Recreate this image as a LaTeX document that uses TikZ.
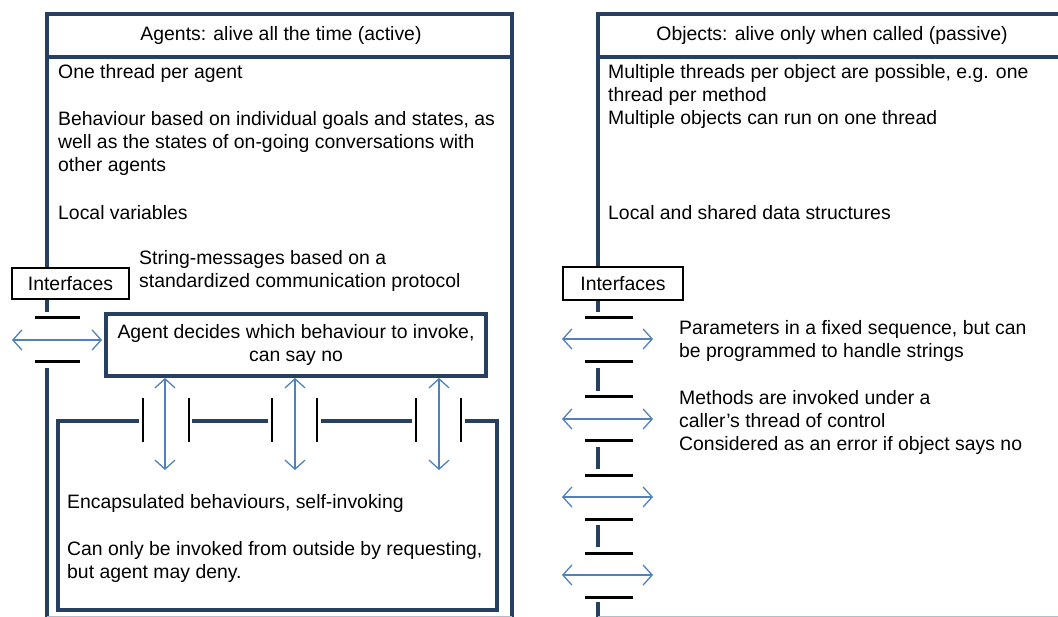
\documentclass[tikz,border=0pt]{standalone}
\usepackage{fontspec}
\setmainfont{Liberation Sans}
\usetikzlibrary{arrows.meta}
\definecolor{navy}{RGB}{38,64,97}
\definecolor{portblue}{RGB}{79,129,189}
\newcommand{\bodyfont}{\fontsize{19.4}{23}\selectfont}
\begin{document}
\begin{tikzpicture}[x=1pt,y=-1pt,
  frame/.style={draw=navy,line width=4pt},
  bar/.style={draw=black,line width=3pt},
  vbar/.style={draw=black,line width=2.5pt},
  port/.style={draw=portblue,line width=1.3pt,
    {Straight Barb[length=9pt,width=20pt]}-{Straight Barb[length=9pt,width=20pt]}},
  txt/.style={font=\bodyfont,inner sep=0pt,align=left,anchor=west},
  head/.style={font=\bodyfont,inner sep=0pt},
  tag/.style={draw=black,line width=1.5pt,fill=white,font=\bodyfont,
    inner sep=0pt,minimum width=117pt,minimum height=31pt}]
\useasboundingbox (0,0) rectangle (1058,617);

% ---------------- Agents ----------------
\draw[frame] (47,312) -- (47,14) -- (512,14) -- (512,622);
\draw[frame] (47,368) -- (47,622);
\draw[frame] (47,57) -- (512,57);
\node[head] (agentsHead) at (281,35) {Agents: alive all the time (active)};

\node[txt] (a1) at (58,73) {One thread per agent};
\node[txt] (a2) at (58,143) {Behaviour based on individual goals and states, as\\well as the states of on-going conversations with\\other agents};
\node[txt] (a3) at (58,213) {Local variables};
\node[txt] (a4) at (139,271) {String-messages based on a\\standardized communication protocol};

\node[tag] (ifaceA) at (70.5,283.5) {Interfaces};

% agent interface port
\draw[bar] (35,318) -- (80,318);
\draw[bar] (35,362) -- (80,362);
\coordinate (pA1) at (12,340);
\coordinate (pA2) at (102,340);
\draw[port] (pA1) -- (pA2);

% dispatcher box
\node[draw=navy,line width=4pt,minimum width=380pt,minimum height=62pt,
      font=\bodyfont,align=center,inner sep=0pt]
  (decide) at (296,345) {Agent decides which behaviour to invoke,\\can say no};

% encapsulated behaviours
\draw[frame] (139,421) -- (58,421) -- (58,610) -- (497,610) -- (497,421) -- (465,421);
\draw[frame] (192,421) -- (268,421);
\draw[frame] (321,421) -- (412,421);
\foreach \x in {143,189,272,317,416,461}
  \draw[vbar] (\x,398) -- (\x,442);

\coordinate (b1) at (165,470);
\coordinate (b2) at (295,470);
\coordinate (b3) at (439,470);
\draw[port] (decide.south -| b1) -- (b1);
\draw[port] (decide.south -| b2) -- (b2);
\draw[port] (decide.south -| b3) -- (b3);

\node[txt] (e1) at (67,503) {Encapsulated behaviours, self-invoking};
\node[txt] (e2) at (67,561.5) {Can only be invoked from outside by requesting,\\but agent may deny.};

% ---------------- Objects ----------------
\draw[frame] (598,312) -- (598,14) -- (1070,14);
\draw[frame] (598,57) -- (1070,57);
\foreach \a/\b in {368/391,447/469,525/547,602/622}
  \draw[frame] (598,\a) -- (598,\b);
\node[head] (objectsHead) at (832,35) {Objects: alive only when called (passive)};

\node[txt] (o1) at (608,85) {Multiple threads per object are possible, e.g. one\\thread per method};
\node[txt] (o2) at (608,119) {Multiple objects can run on one thread};
\node[txt] (o3) at (608,213) {Local and shared data structures};

\node[tag,minimum width=120pt,minimum height=33pt] (ifaceO) at (623,283.5) {Interfaces};

\foreach \y in {318,362,397,441,476,519,553,597}
  \draw[bar] (585,\y) -- (633,\y);
\foreach \y/\n in {339/1,419/2,497/3,575/4} {
  \coordinate (pl\n) at (562,\y);
  \coordinate (pr\n) at (653,\y);
  \draw[port] (pl\n) -- (pr\n);
}

\node[txt] (o4) at (679,341) {Parameters in a fixed sequence, but can\\be programmed to handle strings};
\node[txt] (o5) at (679,422) {Methods are invoked under a\\caller’s thread of control\\Considered as an error if object says no};

% lower edge of the frames, just below the cut
\draw[navy!35,line width=0.8pt] (47,616.5) -- (512,616.5);
\draw[navy!35,line width=0.8pt] (598,616.5) -- (1058,616.5);
\end{tikzpicture}
\end{document}
